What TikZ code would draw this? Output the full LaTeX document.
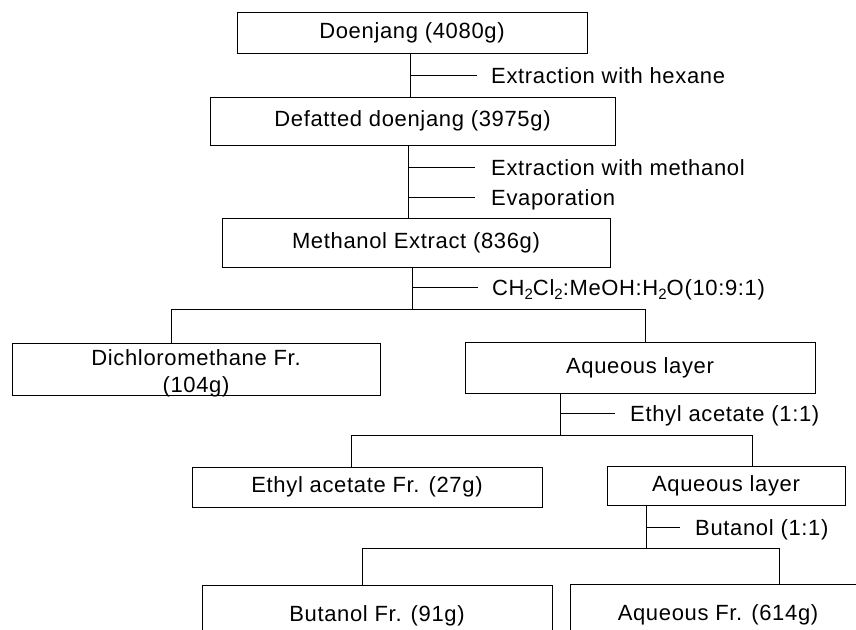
\documentclass[tikz,border=0pt]{standalone}
\usepackage{fontspec}
\setmainfont{Liberation Sans}[LetterSpace=3]
\newcommand\mysub[1]{\raisebox{-0.4ex}{\fontsize{15}{15}\selectfont #1}}
\begin{document}
\begin{tikzpicture}[x=1pt,y=-1pt,
  box/.style={draw, line width=0.9pt, inner sep=0pt, font=\fontsize{22}{27}\selectfont, align=center},
  lbl/.style={anchor=base west, inner sep=0pt, font=\fontsize{22}{27}\selectfont},
  ln/.style={line width=0.9pt}]
\useasboundingbox (0,0) rectangle (856,629);

% boxes
\node[box, minimum width=350pt, minimum height=41pt] (doen) at (412,32.5) {Doenjang (4080g)};
\node[box, minimum width=405pt, minimum height=48pt] (def) at (412.5,121) {Defatted doenjang (3975g)};
\node[box, minimum width=388pt, minimum height=49pt] (meth) at (416,242.5) {Methanol Extract (836g)};
\node[box, minimum width=368pt, minimum height=52pt] (dcm) at (196,369) {};
\node[lbl, anchor=center, align=center] (dcmtext) at ([yshift=-4.5pt]dcm.center) {Dichloromethane Fr.\\(104g)};
\node[box, minimum width=350pt, minimum height=51pt] (aq1) at (640,367.5) {Aqueous layer};
\node[box, minimum width=350pt, minimum height=40pt] (eth) at (367,487) {Ethyl acetate Fr. (27g)};
\node[box, minimum width=238pt, minimum height=39pt] (aq2) at (726,485.5) {Aqueous layer};
\node[box, minimum width=350pt, minimum height=62pt] (but) at (377,616) {Butanol Fr. (91g)};
\node[box, minimum width=296pt, minimum height=62pt] (aqf) at (718,615) {Aqueous Fr. (614g)};

% step 1
\coordinate (t1) at (410,75);
\draw[ln] (doen.south -| t1) -- (def.north -| t1);
\draw[ln] (t1) -- ++(67,0) coordinate (t1e);
\node[lbl] (l1) at ([xshift=14pt,yshift=-8pt]t1e) {Extraction with hexane};

% step 2
\coordinate (t2) at (408,167);
\coordinate (t3) at (408,197);
\draw[ln] (def.south -| t2) -- (meth.north -| t2);
\draw[ln] (t2) -- ++(67,0) coordinate (t2e);
\draw[ln] (t3) -- ++(67,0) coordinate (t3e);
\node[lbl] (l2) at ([xshift=16pt,yshift=-8pt]t2e) {Extraction with methanol};
\node[lbl] (l3) at ([xshift=16pt,yshift=-8pt]t3e) {Evaporation};

% step 3
\coordinate (t4) at (412,287);
\coordinate (s1) at (412,309);
\coordinate (s1l) at (171,309);
\coordinate (s1r) at (645,309);
\draw[ln] (meth.south -| s1) -- (s1);
\draw[ln] (t4) -- ++(66,0) coordinate (t4e);
\node[lbl] (l4) at ([xshift=14pt,yshift=-8pt]t4e) {CH\mysub{2}Cl\mysub{2}:MeOH:H\mysub{2}O(10:9:1)};
\draw[ln] (dcm.north -| s1l) -- (s1l) -- (s1r) -- (aq1.north -| s1r);

% step 4
\coordinate (t5) at (560,413);
\coordinate (s2) at (560,435);
\coordinate (s2l) at (351,435);
\coordinate (s2r) at (752,435);
\draw[ln] (aq1.south -| s2) -- (s2);
\draw[ln] (t5) -- ++(55,0) coordinate (t5e);
\node[lbl] (l5) at ([xshift=15pt,yshift=-8pt]t5e) {Ethyl acetate (1:1)};
\draw[ln] (eth.north -| s2l) -- (s2l) -- (s2r) -- (aq2.north -| s2r);

% step 5
\coordinate (t6) at (646,527);
\coordinate (s3) at (646,548);
\coordinate (s3l) at (362,548);
\coordinate (s3r) at (779,548);
\draw[ln] (aq2.south -| s3) -- (s3);
\draw[ln] (t6) -- ++(34,0) coordinate (t6e);
\node[lbl] (l6) at ([xshift=15pt,yshift=-8pt]t6e) {Butanol (1:1)};
\draw[ln] (but.north -| s3l) -- (s3l) -- (s3r) -- (aqf.north -| s3r);
\end{tikzpicture}
\end{document}
